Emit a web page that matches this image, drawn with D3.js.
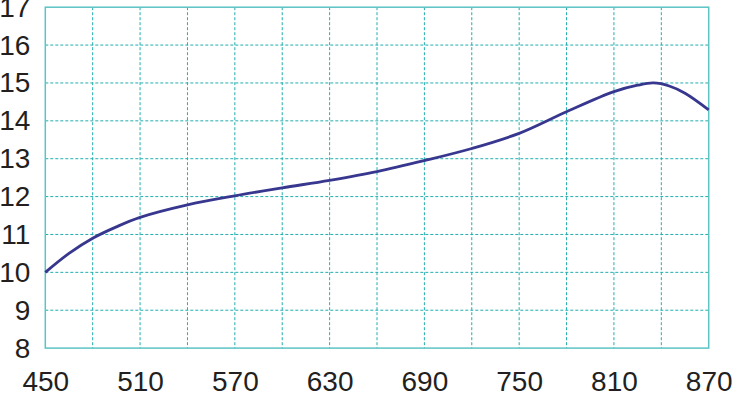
<!DOCTYPE html>
<html>
<head>
<meta charset="utf-8">
<script src="https://cdn.jsdelivr.net/npm/d3@7"></script>
<style>
  body { margin: 0; background: #fff; }
  svg { display: block; }
</style>
</head>
<body>
<svg width="733" height="396"></svg>
<script>
// curve readings
const xVals = [450, 465, 480, 495, 510, 540, 570, 600, 630, 660, 690, 720, 750, 780, 810, 825, 835, 845, 855, 870];
const yVals = [10, 10.5, 10.9, 11.2, 11.45, 11.78, 12.02, 12.23, 12.43, 12.66, 12.95, 13.27, 13.67, 14.24, 14.77, 14.94, 15.0, 14.92, 14.73, 14.29];
const xTicks = [450, 510, 570, 630, 690, 750, 810, 870];
const yTicks = [8, 9, 10, 11, 12, 13, 14, 15, 16, 17];
const xGrid = d3.range(480, 870, 30);
const yGrid = d3.range(9, 17, 1);

const margin = {top: 7.2, right: 24.3, bottom: 47.9, left: 45.3};
const W = 733, H = 396;

const x = d3.scaleLinear()
    .domain([450, 870])
    .range([margin.left, W - margin.right]);

const y = d3.scaleLinear()
    .domain([8, 17])
    .range([H - margin.bottom, margin.top]);

const svg = d3.select('svg');
const grid = '#22aeae';

// grid
svg.append('g')
    .selectAll('line')
    .data(xGrid)
    .join('line')
    .attr('x1', d => x(d)).attr('x2', d => x(d))
    .attr('y1', y(17)).attr('y2', y(8))
    .attr('stroke', grid)
    .attr('stroke-width', 1)
    .attr('stroke-dasharray', '3,2');

svg.append('g')
    .selectAll('line')
    .data(yGrid)
    .join('line')
    .attr('y1', d => y(d)).attr('y2', d => y(d))
    .attr('x1', x(450)).attr('x2', x(870))
    .attr('stroke', grid)
    .attr('stroke-width', 1)
    .attr('stroke-dasharray', '3,2');

// frame
svg.append('rect')
    .attr('x', x(450)).attr('y', y(17))
    .attr('width', x(870) - x(450))
    .attr('height', y(8) - y(17))
    .attr('fill', 'none')
    .attr('stroke', '#5cc4c4')
    .attr('stroke-width', 1.5);

// line
const line = d3.line()
    .x((d, i) => x(xVals[i]))
    .y(d => y(d))
    .curve(d3.curveCatmullRom.alpha(0.5));

svg.append('path')
    .datum(yVals)
    .attr('fill', 'none')
    .attr('stroke', '#38378f')
    .attr('stroke-width', 2.8)
    .attr('d', line);

// axes
const yAxis = d3.axisLeft(y).tickValues(yTicks).tickSize(0).tickPadding(15);
const xAxis = d3.axisBottom(x).tickValues(xTicks).tickSize(0).tickPadding(23);

const ya = svg.append('g')
    .attr('transform', `translate(${margin.left},0)`)
    .call(yAxis);
const xa = svg.append('g')
    .attr('transform', `translate(0,${H - margin.bottom})`)
    .call(xAxis);

[ya, xa].forEach(g => {
    g.select('.domain').remove();
    g.selectAll('text')
        .attr('fill', '#231f20')
        .style('font-family', '"Liberation Sans", Arial, sans-serif')
        .style('font-size', '28px');
});
</script>
</body>
</html>
